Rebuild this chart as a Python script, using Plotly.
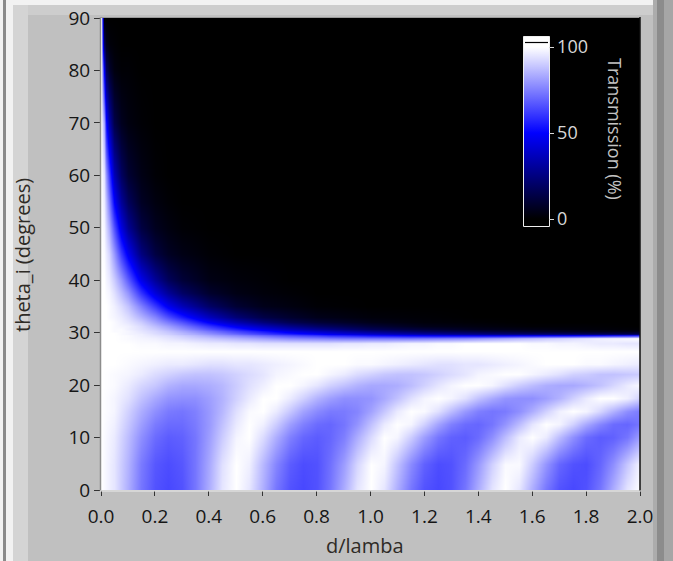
import plotly.graph_objects as go

# ---------------- data (transmission %) ----------------
# lower region (below the critical angle): fine grid in d/lambda
d_lo = [0.00, 0.05, 0.10, 0.15, 0.20, 0.25, 0.30, 0.35, 0.40, 0.45,
        0.50, 0.55, 0.60, 0.65, 0.70, 0.75, 0.80, 0.85, 0.90, 0.95,
        1.00, 1.05, 1.10, 1.15, 1.20, 1.25, 1.30, 1.35, 1.40, 1.45,
        1.50, 1.55, 1.60, 1.65, 1.70, 1.75, 1.80, 1.85, 1.90, 1.95, 2.00]
theta_lo = [0, 5, 10, 12.5, 15, 17.5, 20, 22, 24, 26.5, 28, 29, 29.5, 29.8, 30]
T_lo = [
    [100,95,84,73,66,64,66,73,84,95,100,95,84,73,66,64,66,73,84,95,100,95,84,73,66,64,66,73,84,95,100,95,84,73,66,64,66,73,84,95,100],
    [100,95,85,74,67,65,67,73,83,94,100,97,86,76,68,65,66,72,81,92,100,98,88,77,69,65,66,71,80,91,99,99,90,79,70,66,65,70,78,89,98],
    [100,96,87,78,71,68,69,73,81,90,98,100,93,84,75,70,68,70,75,84,93,100,98,90,81,73,69,68,71,78,87,96,100,96,87,78,71,68,69,73,81],
    [100,97,89,81,74,71,71,74,80,88,96,100,97,90,81,75,71,70,73,79,88,96,100,98,91,82,75,71,70,73,79,87,95,100,98,91,83,76,71,70,73],
    [100,98,91,84,78,74,73,75,80,86,94,99,100,96,89,82,77,74,74,76,82,89,96,100,99,94,87,80,75,73,74,78,84,91,97,100,98,92,85,78,74],
    [100,98,94,88,83,79,78,78,81,85,91,96,100,100,96,91,85,81,78,78,79,83,88,94,98,100,98,94,88,83,79,78,78,81,85,91,96,100,100,97,91],
    [100,99,96,92,89,85,83,83,84,86,90,94,97,100,100,98,95,91,88,85,83,83,84,87,91,95,98,100,100,98,94,90,87,84,83,83,85,88,92,96,99],
    [100,99,98,96,93,91,89,88,88,89,91,93,95,98,99,100,100,98,96,93,91,89,88,88,89,91,93,95,98,99,100,100,98,96,94,91,90,88,88,89,90],
    [100,100,99,98,97,96,96,95,94,94,95,95,96,97,98,99,100,100,100,99,99,98,97,96,95,94,94,95,95,96,97,98,99,100,100,100,99,99,98,97,96],
    [100,100,100,100,100,100,100,100,100,100,100,100,100,100,100,100,100,100,100,100,100,100,100,100,100,100,100,100,100,100,100,100,100,100,100,100,100,100,100,100,100],
    [100,100,100,99,99,98,98,97,96,96,95,95,94,94,94,94,94,94,95,95,96,96,97,98,98,99,99,100,100,100,100,100,99,99,98,98,97,96,96,95,95],
    [100,100,99,98,97,95,93,91,89,87,85,83,81,79,77,76,75,74,73,73,73,73,73,73,74,75,76,77,79,81,83,85,87,89,91,93,95,97,98,99,100],
    [100,100,99,97,95,93,90,87,83,80,77,74,71,68,65,63,61,58,57,55,53,52,51,50,49,48,48,48,47,47,47,48,48,49,49,50,51,52,54,55,57],
    [100,100,98,97,94,91,87,84,80,76,72,68,64,61,58,55,52,49,46,44,42,40,38,37,35,34,32,31,30,29,28,28,27,26,26,25,25,24,24,24,23],
    [100,100,98,96,93,90,86,82,77,73,68,64,60,56,52,49,46,43,40,38,35,33,31,29,27,26,24,23,22,20,19,18,17,17,16,15,14,14,13,12,12],
]

# upper region (total internal reflection): fine grid near d = 0
d_hi = [0, 0.01, 0.02, 0.03, 0.05, 0.075, 0.1, 0.15, 0.2, 0.25, 0.3,
        0.4, 0.5, 0.6, 0.7, 0.8, 1.0, 1.2, 1.4, 1.6, 1.8, 2.0]
theta_hi = [30, 30.3, 30.7, 31.2, 32, 33, 35, 37.5, 40, 45, 50, 55, 60, 70, 80, 85, 90]
T_hi = [
    [100,100,100,100,100,99,98,96,93,90,86,77,68,60,52,46,35,27,22,17,14,12],
    [100,100,100,100,99,99,98,95,92,88,83,73,63,54,45,38,26,18,13,9,6,5],
    [100,100,100,100,99,99,97,94,90,85,79,67,56,45,36,29,17,11,6,4,2,1],
    [100,100,100,100,99,98,97,93,87,81,74,60,47,36,27,20,11,5,3,1,1,0],
    [100,100,100,100,99,97,95,90,82,74,66,49,35,24,16,11,5,2,1,0,0,0],
    [100,100,100,99,98,96,93,85,76,65,55,37,23,14,9,5,2,1,0,0,0,0],
    [100,100,100,99,97,93,88,75,61,47,36,20,10,5,3,1,0,0,0,0,0,0],
    [100,100,99,98,94,87,79,60,43,30,20,9,4,2,1,0,0,0,0,0,0,0],
    [100,100,98,96,90,80,68,46,30,18,11,4,2,1,0,0,0,0,0,0,0,0],
    [100,99,96,92,80,62,47,25,13,7,4,1,0,0,0,0,0,0,0,0,0,0],
    [100,98,92,84,66,44,29,13,6,3,1,0,0,0,0,0,0,0,0,0,0,0],
    [100,96,87,74,50,30,18,7,3,1,0,0,0,0,0,0,0,0,0,0,0,0],
    [100,94,79,62,36,19,10,4,1,0,0,0,0,0,0,0,0,0,0,0,0,0],
    [100,82,53,33,14,6,3,1,0,0,0,0,0,0,0,0,0,0,0,0,0,0],
    [100,48,18,9,3,1,1,0,0,0,0,0,0,0,0,0,0,0,0,0,0,0],
    [100,18,5,2,1,0,0,0,0,0,0,0,0,0,0,0,0,0,0,0,0,0],
    [100,0,0,0,0,0,0,0,0,0,0,0,0,0,0,0,0,0,0,0,0,0],
]

x_ticks = [0.0, 0.2, 0.4, 0.6, 0.8, 1.0, 1.2, 1.4, 1.6, 1.8, 2.0]
y_ticks = [0, 10, 20, 30, 40, 50, 60, 70, 80, 90]
cbar_ticks = [0, 50, 100]

x_title = "d/lamba"
y_title = "theta_i (degrees)"
cbar_title = "Transmission (%)"

# ---------------- layout geometry ----------------
W_FIG, H_FIG = 673, 561
L, T, PW, PH = 101, 18, 539, 472
FONT = "Open Sans"
TICK_COLOR = "#161616"
TITLE_COLOR = "#2e2b26"


def X(px):
    return (px - L) / PW


def Y(py):
    return (T + PH - py) / PH


fig = go.Figure()
fig.add_trace(go.Heatmap(x=d_lo, y=theta_lo, z=T_lo, zsmooth="best",
                         coloraxis="coloraxis", hoverinfo="skip"))
fig.add_trace(go.Heatmap(x=d_hi, y=theta_hi, z=T_hi, zsmooth="best",
                         coloraxis="coloraxis", hoverinfo="skip"))

shapes = []


def rect(x0, y0, x1, y1, fill=None, line=None, lw=0, layer="below"):
    shapes.append(dict(type="rect", xref="paper", yref="paper",
                       x0=X(x0), x1=X(x1), y0=Y(y0), y1=Y(y1),
                       fillcolor=fill or "rgba(0,0,0,0)",
                       line=dict(color=line or "rgba(0,0,0,0)", width=lw),
                       layer=layer))


def hline(x0, x1, y, color, w=1, layer="above"):
    shapes.append(dict(type="line", xref="paper", yref="paper",
                       x0=X(x0), x1=X(x1), y0=Y(y), y1=Y(y),
                       line=dict(color=color, width=w), layer=layer))


def vline(x, y0, y1, color, w=1, layer="above"):
    shapes.append(dict(type="line", xref="paper", yref="paper",
                       x0=X(x), x1=X(x), y0=Y(y0), y1=Y(y1),
                       line=dict(color=color, width=w), layer=layer))


# window frame / bevels
rect(0, 0, 673, 5, fill="#f2f2f2")
rect(0, 0, 3, 561, fill="#f2f2f2")
rect(3, 0, 6, 561, fill="#8a8a8a")
rect(6, 5, 13, 561, fill="#f2f2f2")
rect(13, 5, 28, 561, fill="#d4d4d4")
rect(28, 5, 653, 15, fill="#cdcdcd")
rect(653, 0, 657, 561, fill="#acacac")
rect(657, 0, 664, 561, fill="#8c8c8c")
rect(664, 0, 673, 561, fill="#a6a6a6")

# plot frame
vline(100.5, 17, 491, "#8c8c8c", 1.5)
hline(100, 640, 17.5, "#9a9a9a", 1)
vline(640, 17, 491, "#101010", 1.5)
hline(100, 641, 491, "#ececec", 1)

# colour-bar decorations (above-range box + outline)
rect(523.5, 36.5, 549.5, 48, fill="#ffffff", layer="above")
hline(525, 548, 42.5, "#000000", 1.2)
rect(523.5, 36.5, 549.5, 226.5, line="#eeeeee", lw=1, layer="above")

annotations = [
    dict(text=y_title, xref="paper", yref="paper", x=X(22), y=Y(255),
         textangle=-90, showarrow=False, xanchor="center", yanchor="middle",
         font=dict(family=FONT, size=20, color=TITLE_COLOR)),
    dict(text=x_title, xref="paper", yref="paper", x=X(365), y=Y(545),
         showarrow=False, xanchor="center", yanchor="middle",
         font=dict(family=FONT, size=20, color=TITLE_COLOR)),
    dict(text=cbar_title, xref="paper", yref="paper", x=X(615), y=Y(129),
         textangle=90, showarrow=False, xanchor="center", yanchor="middle",
         font=dict(family=FONT, size=18, color="#c4c4c4")),
]

fig.update_layout(
    width=W_FIG, height=H_FIG,
    margin=dict(l=L, r=W_FIG - L - PW, t=T, b=H_FIG - T - PH, pad=0,
                autoexpand=False),
    paper_bgcolor="#c0c0c0", plot_bgcolor="#000000",
    showlegend=False,
    font=dict(family=FONT, size=19, color=TICK_COLOR),
    coloraxis=dict(
        cmin=0, cmax=100,
        colorscale=[[0, "#000000"], [0.5, "#0000ff"], [1, "#ffffff"]],
        colorbar=dict(
            x=X(524), xanchor="left", xpad=0,
            y=Y(219), yanchor="bottom", ypad=0,
            len=172, lenmode="pixels", thickness=25,
            outlinewidth=0,
            tickvals=cbar_ticks, ticks="outside", ticklen=5,
            tickcolor="#d8d8d8", tickwidth=1,
            tickfont=dict(family=FONT, size=18, color="#d8d8d8"),
        ),
    ),
    xaxis=dict(range=[0, 2], tickvals=x_ticks, tickformat=".1f",
               ticks="outside", ticklen=5, tickwidth=1, tickcolor="#333333",
               ticklabelstandoff=4,
               showgrid=False, zeroline=False, showline=False, automargin=False,
               tickfont=dict(family=FONT, size=19, color=TICK_COLOR)),
    yaxis=dict(range=[0, 90], tickvals=y_ticks,
               ticks="outside", ticklen=6, tickwidth=1, tickcolor="#333333",
               showgrid=False, zeroline=False, showline=False, automargin=False,
               tickfont=dict(family=FONT, size=19, color=TICK_COLOR)),
    shapes=shapes,
    annotations=annotations,
)

fig.write_html("out.html", config={"displayModeBar": False},
               post_script="document.body.style.margin='0';")
